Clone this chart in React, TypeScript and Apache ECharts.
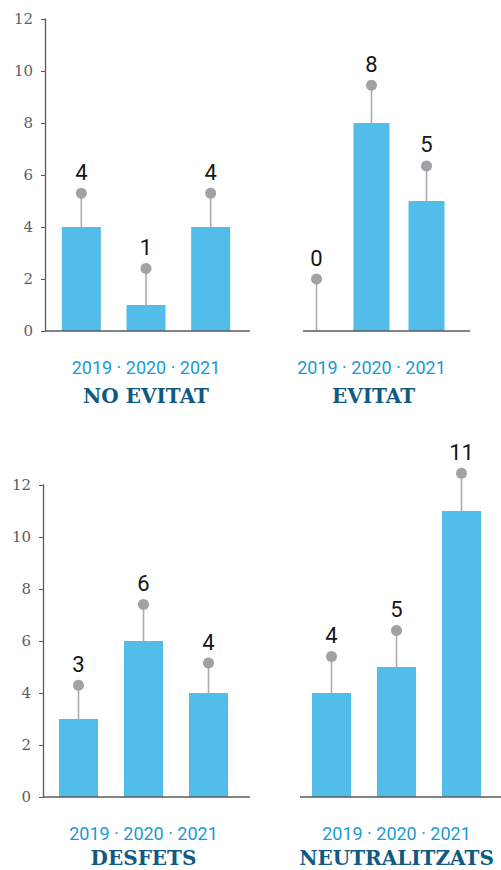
import React, { useEffect, useRef } from "react";
import * as echarts from "echarts";

const categories = ["2019", "2020", "2021"];
const noEvitat = [4, 1, 4];
const evitat = [0, 8, 5];
const desfets = [3, 6, 4];
const neutralitzats = [4, 5, 11];
// heights of the grey lollipop markers above each bar
const noEvitatMarker = [5.3, 2.4, 5.3];
const evitatMarker = [2.0, 9.45, 6.35];
const desfetsMarker = [4.3, 7.4, 5.15];
const neutralitzatsMarker = [5.4, 6.4, 12.45];
const yTickLabels = ["0", "2", "4", "6", "8", "10", "12"];
const panelTitles = ["NO EVITAT", "EVITAT", "DESFETS", "NEUTRALITZATS"];

const seriesValues = [noEvitat, evitat, desfets, neutralitzats];
const markerValues = [noEvitatMarker, evitatMarker, desfetsMarker, neutralitzatsMarker];

const layout = [
  { left: 49, width: 194, top: 19, height: 312, showY: true, yOffset: 4, axisFrom: 45, axisTo: 250, barWidth: 39, titleDy: 65 },
  { left: 289, width: 165, top: 19, height: 312, showY: false, yOffset: 0, axisFrom: 303, axisTo: 470, barWidth: 36, titleDy: 65 },
  { left: 46, width: 195, top: 485, height: 312, showY: true, yOffset: 3, axisFrom: 43, axisTo: 250, barWidth: 39, titleDy: 61 },
  { left: 299, width: 195, top: 485, height: 312, showY: false, yOffset: 0, axisFrom: 300, axisTo: 501, barWidth: 39, titleDy: 61 },
];

const BAR = "#52bde9";
const DOT = "#a3a1a6";
const AXIS = "#5a5a5a";
const YEAR = "#1a9ad6";
const TITLE = "#0f5a82";

export default function App() {
  const ref = useRef<HTMLDivElement>(null);
  useEffect(() => {
    if (!ref.current) return;
    const chart = echarts.init(ref.current, null, { renderer: "svg" });
    const yMax = Number(yTickLabels[yTickLabels.length - 1]);
    const yStep = Number(yTickLabels[1]) - Number(yTickLabels[0]);

    const grid = layout.map((l) => ({ left: l.left, width: l.width, top: l.top, height: l.height, containLabel: false }));
    const xAxis = layout.map((l, i) => ({
      type: "category",
      gridIndex: i,
      data: categories,
      boundaryGap: true,
      axisLine: { show: false },
      axisTick: { show: false },
      axisLabel: { show: false },
    }));
    const yAxis = layout.map((l, i) => ({
      type: "value",
      gridIndex: i,
      min: 0,
      max: yMax,
      interval: yStep,
      show: l.showY,
      offset: l.yOffset,
      splitLine: { show: false },
      axisLine: { show: l.showY, lineStyle: { color: AXIS, width: 1.3 } },
      axisTick: { show: l.showY, length: 4, lineStyle: { color: AXIS, width: 1 } },
      axisLabel: {
        show: l.showY,
        margin: 12,
        color: "#5e5e5e",
        fontFamily: "DejaVu Serif",
        fontSize: 15,
        formatter: (v: number) => yTickLabels[Math.round(v / yStep)] ?? "",
      },
    }));

    const series: any[] = [];
    layout.forEach((l, i) => {
      series.push({
        type: "bar",
        xAxisIndex: i,
        yAxisIndex: i,
        barWidth: l.barWidth,
        itemStyle: { color: BAR },
        data: seriesValues[i],
        z: 2,
      });
      series.push({
        type: "custom",
        xAxisIndex: i,
        yAxisIndex: i,
        z: 3,
        data: categories.map((c, k) => [k, seriesValues[i][k], markerValues[i][k]]),
        renderItem: (params: any, api: any) => {
          const base = api.coord([api.value(0), api.value(1)]);
          const top = api.coord([api.value(0), api.value(2)]);
          return {
            type: "group",
            children: [
              {
                type: "line",
                shape: { x1: base[0], y1: base[1], x2: top[0], y2: top[1] },
                style: { stroke: "#acaaae", lineWidth: 1.6 },
              },
              {
                type: "circle",
                shape: { cx: top[0], cy: top[1], r: 5.5 },
                style: { fill: DOT },
              },
              {
                type: "text",
                x: top[0],
                y: top[1] - 21,
                style: {
                  text: String(api.value(1)),
                  fill: "#151515",
                  fontFamily: "Roboto",
                  fontSize: 22,
                  textAlign: "center",
                  textVerticalAlign: "middle",
                },
              },
            ],
          };
        },
      });
    });

    const graphic: any[] = [];
    layout.forEach((l, i) => {
      const baseY = l.top + l.height;
      const cx = l.left + l.width / 2;
      graphic.push({
        type: "line",
        shape: { x1: l.axisFrom, y1: baseY, x2: l.axisTo, y2: baseY },
        style: { stroke: AXIS, lineWidth: 1.3 },
        z: 5,
      });
      graphic.push({
        type: "text",
        x: cx,
        y: baseY + 36,
        style: {
          text: categories.join(" · "),
          fill: YEAR,
          fontFamily: "Roboto",
          fontSize: 18,
          textAlign: "center",
          textVerticalAlign: "middle",
        },
      });
      graphic.push({
        type: "text",
        x: cx + (i === 1 ? 2 : 0),
        y: baseY + l.titleDy,
        style: {
          text: panelTitles[i],
          fill: TITLE,
          fontFamily: "DejaVu Serif",
          fontWeight: "bold",
          fontSize: 20,
          textAlign: "center",
          textVerticalAlign: "middle",
        },
      });
    });

    chart.setOption({
      animation: false,
      backgroundColor: "#ffffff",
      grid,
      xAxis,
      yAxis,
      series,
      graphic,
    });
    return () => chart.dispose();
  }, []);
  return <div ref={ref} style={{ position: "absolute", left: 0, top: 0, width: 501, height: 870 }} />;
}
